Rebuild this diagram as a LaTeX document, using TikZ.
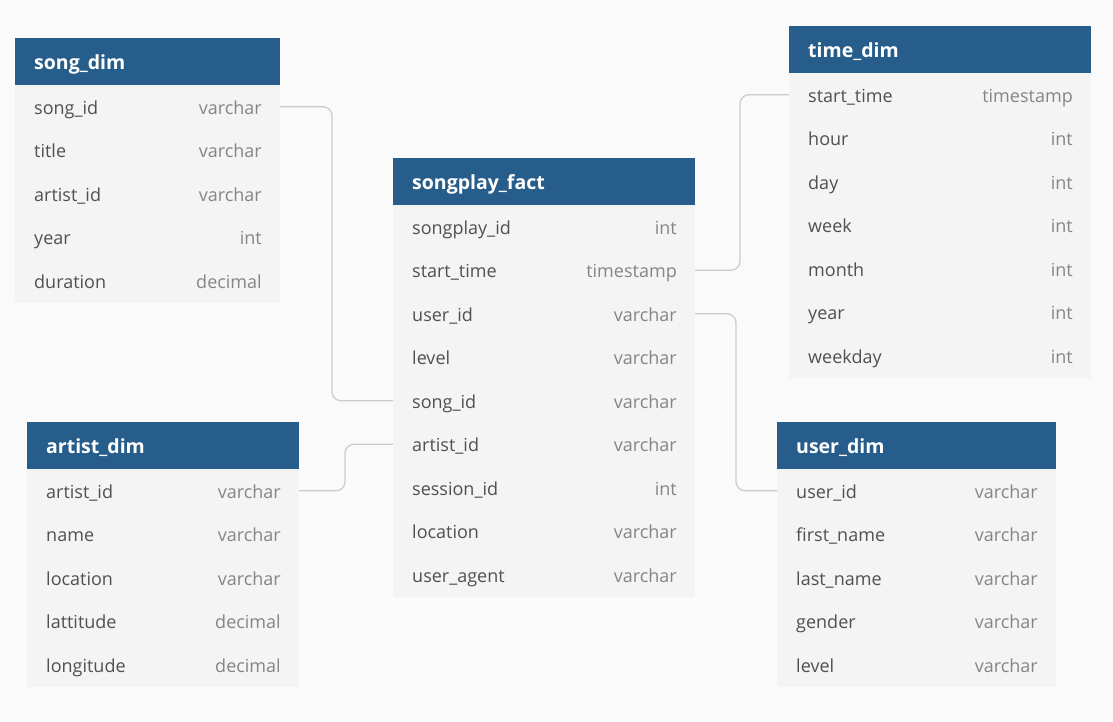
\documentclass[tikz,border=0pt]{standalone}
\usepackage{fontspec}
\setmainfont{Open Sans}
\usetikzlibrary{calc}
\definecolor{headblue}{HTML}{275D8A}
\definecolor{rowgray}{HTML}{F4F4F4}
\definecolor{pagegray}{HTML}{FAFAFA}
\definecolor{namegray}{HTML}{505050}
\definecolor{typegray}{HTML}{858585}
\definecolor{linkgray}{HTML}{CCCCCC}
\newcommand{\erdtable}[6]{%
        \node[headbox,minimum width=#4,anchor=north west] (#1-h) at (#2,#3) {};
        \node[headtext,anchor=base west] at ($(#1-h.west)+(19,7.5)$) {#5};
        \foreach \fname/\ftype [count=\i] in {#6} {
                \node[rowbox,minimum width=#4,anchor=north west] (#1-\i) at ($(#2,#3)+(0,3.5+43.5*\i)$) {};
                \node[fieldname,anchor=base west] at ($(#1-\i.west)+(19,7.5)$) {\fname};
                \node[fieldtype,anchor=base east] at ($(#1-\i.east)+(-18,7.5)$) {\ftype};
        }
}
\begin{document}
\begin{tikzpicture}[x=1pt,y=-1pt,
        headbox/.style={fill=headblue,minimum height=47,inner sep=0,outer sep=0},
        rowbox/.style={fill=rowgray,minimum height=43.5,inner sep=0,outer sep=0},
        headtext/.style={text=white,font=\fontsize{19.5}{23}\selectfont\bfseries,inner sep=0},
        fieldname/.style={text=namegray,font=\fontsize{18}{22}\selectfont,inner sep=0},
        fieldtype/.style={text=typegray,font=\fontsize{18}{22}\selectfont,inner sep=0},
        link/.style={linkgray,line width=1.3pt,rounded corners=9pt}]
        \fill[pagegray] (0,0) rectangle (1113,721);
        \erdtable{song}{15}{38}{265}{song\_dim}{song\_id/varchar,title/varchar,artist\_id/varchar,year/int,duration/decimal}
        \erdtable{time}{789}{26}{302}{time\_dim}{start\_time/timestamp,hour/int,day/int,week/int,month/int,year/int,weekday/int}
        \erdtable{fact}{393}{158}{302}{songplay\_fact}{songplay\_id/int,start\_time/timestamp,user\_id/varchar,level/varchar,song\_id/varchar,artist\_id/varchar,session\_id/int,location/varchar,user\_agent/varchar}
        \erdtable{artist}{27}{422}{272}{artist\_dim}{artist\_id/varchar,name/varchar,location/varchar,lattitude/decimal,longitude/decimal}
        \erdtable{user}{777}{422}{279}{user\_dim}{user\_id/varchar,first\_name/varchar,last\_name/varchar,gender/varchar,level/varchar}
        \draw[link] (song-1.east) -- ++(52,0) |- (fact-5.west);
        \draw[link] (artist-1.east) -- ++(46,0) |- (fact-6.west);
        \draw[link] (fact-2.east) -- ++(45,0) |- (time-1.west);
        \draw[link] (fact-3.east) -- ++(41,0) |- (user-1.west);
\end{tikzpicture}
\end{document}
